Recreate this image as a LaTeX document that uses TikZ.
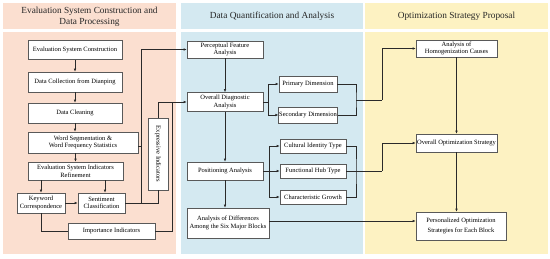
\documentclass[tikz,border=0pt]{standalone}
\usepackage{fontspec}
\setmainfont{Liberation Serif}
\usetikzlibrary{arrows.meta}
\definecolor{pinkbg}{HTML}{FBDFD0}
\definecolor{bluebg}{HTML}{D4E9F1}
\definecolor{yellowbg}{HTML}{FDF2C2}
\definecolor{linec}{HTML}{2A2A2A}
\tikzset{
  box/.style={draw=black!65, fill=white, line width=0.6pt, inner sep=0.5pt, align=center, font=\fontsize{6.5}{7.7}\selectfont},
  conn/.style={draw=linec, line width=0.6pt},
  arr/.style={conn, -{Latex[length=3pt,width=2.6pt]}},
  hdr/.style={font=\fontsize{9.3}{11}\selectfont, align=center, text=black!85}
}
\begin{document}
\begin{tikzpicture}[x=1pt,y=1pt]
\useasboundingbox (0,0) rectangle (550,-259);
% panels
\fill[pinkbg] (3,-3) rectangle (176,-29.5);
\fill[pinkbg] (3,-32.5) rectangle (176,-254);
\fill[bluebg] (181,-3) rectangle (363,-29.5);
\fill[bluebg] (181,-32.5) rectangle (363,-254);
\fill[yellowbg] (365,-3) rectangle (548,-29.5);
\fill[yellowbg] (365,-32.5) rectangle (548,-254);
\node[hdr] (h1) at (89.5,-16.5) {Evaluation System Construction and\\Data Processing};
\node[hdr] (h2) at (272,-16.5) {Data Quantification and Analysis};
\node[hdr] (h3) at (456.5,-16.5) {Optimization Strategy Proposal};
% left boxes
\node[box, minimum width=94, minimum height=19] (esc) at (75,-50) {Evaluation System Construction};
\node[box, minimum width=94, minimum height=20] (dcd) at (75,-82) {Data Collection from Dianping};
\node[box, minimum width=94, minimum height=20] (dcl) at (75,-113) {Data Cleaning};
\node[box, minimum width=110, minimum height=21] (ws) at (83,-142.5) {Word Segmentation \&\\Word Frequency Statistics};
\node[box, minimum width=95, minimum height=18] (eir) at (75.5,-171) {Evaluation System Indicators\\Refinement};
\node[box, minimum width=48, minimum height=20] (kc) at (41,-203) {Keyword\\Correspondence};
\node[box, minimum width=47, minimum height=20] (sc) at (101.5,-203) {Sentiment\\Classification};
\node[box, minimum width=87, minimum height=16] (ii) at (111.5,-231) {Importance Indicators};
\node[box, minimum width=20, minimum height=72] (ei) at (158,-154) {};
\node[rotate=-90, font=\fontsize{6.5}{7.7}\selectfont, inner sep=0pt] (eit) at (ei.center) {Expressive Indicators};
% middle boxes
\node[box, minimum width=76, minimum height=17] (pfa) at (225,-49.5) {Perceptual Feature\\Analysis};
\node[box, minimum width=76, minimum height=19] (oda) at (225,-102) {Overall Diagnostic\\Analysis};
\node[box, minimum width=58, minimum height=16] (pd) at (308,-84) {Primary Dimension};
\node[box, minimum width=58, minimum height=16] (sd) at (308,-115) {Secondary Dimension};
\node[box, minimum width=76, minimum height=18] (pa) at (225,-171) {Positioning Analysis};
\node[box, minimum width=66, minimum height=14] (cit) at (313,-146) {Cultural Identity Type};
\node[box, minimum width=66, minimum height=14] (fht) at (313,-171) {Functional Hub Type};
\node[box, minimum width=66, minimum height=14] (cg) at (313,-197) {Characteristic Growth};
\node[box, minimum width=82, minimum height=30] (ad) at (228,-223) {Analysis of Differences\\Among the Six Major Blocks};
% right boxes
\node[box, minimum width=81, minimum height=17] (hc) at (456.5,-48.5) {Analysis of\\Homogenization Causes};
\node[box, minimum width=81, minimum height=18] (oos) at (456.5,-143) {Overall Optimization Strategy};
\node[box, minimum width=90, minimum height=28, font=\fontsize{6.5}{10.5}\selectfont] (pos) at (461,-226) {Personalized Optimization\\Strategies for Each Block};
% coordinates
\coordinate (jL) at (141,-203);
\coordinate (jE) at (158,-203);
\coordinate (jI) at (172,-102);
\coordinate (bM1) at (268,-102);
\coordinate (mM1) at (356,-100);
\coordinate (bM2) at (269,-171);
\coordinate (mM2) at (356,-171);
\coordinate (vR) at (382,-100);
\coordinate (vR2) at (382,-171);
% left connectors
\draw[arr] (esc) -- (dcd);
\draw[arr] (dcd) -- (dcl);
\draw[arr] (dcl.south) -- (dcl.south |- ws.north);
\draw[arr] (ws.south -| eir.north) -- (eir.north);
\draw[arr] (eir.south -| kc.north) -- (kc.north);
\draw[arr] (eir.south -| 105,0) -- (sc.north -| 105,0);
\draw[arr] (kc) -- (sc);
\draw[conn] (kc.south) |- (ii.west);
\draw[conn] (sc.east) -- (jE) -- (ei.south);
\draw[conn] ([yshift=-3.5pt]ws.east) -- ([yshift=-3.5pt]ws.east -| jL);
\draw[arr] (jL) |- (pfa.west);
\draw[arr] (ei.north) |- (oda.west);
\draw[conn] (ii.east) -| (jI);
% middle connectors
\draw[arr] (pfa) -- (oda);
\draw[arr] (oda) -- (pa);
\draw[arr] (pa.south) -- (pa.south |- ad.north);
\draw[conn] (oda.east) -- (bM1);
\draw[arr] (bM1) |- (pd.west);
\draw[arr] (bM1) |- (sd.west);
\draw[conn] (pd.east) -| (mM1) |- (sd.east);
\draw[conn] (mM1) -- (vR);
\draw[conn] (pa.east) -- (bM2);
\draw[arr] (bM2) |- (cit.west);
\draw[arr] (bM2) -- (fht.west);
\draw[arr] (bM2) |- (cg.west);
\draw[conn] (cit.east) -| (mM2) |- (cg.east);
\draw[conn] (fht.east) -- (vR2);
% right connectors
\draw[arr] (vR) |- (hc.west);
\draw[arr] (vR2) |- (oos.west);
\draw[arr] (hc.south -| oos.north) -- (oos.north);
\draw[arr] (oos.south) -- (oos.south |- pos.north);
\draw[arr] ([yshift=2pt]ad.east) -- ([yshift=2pt]ad.east -| pos.west);
\end{tikzpicture}
\end{document}
